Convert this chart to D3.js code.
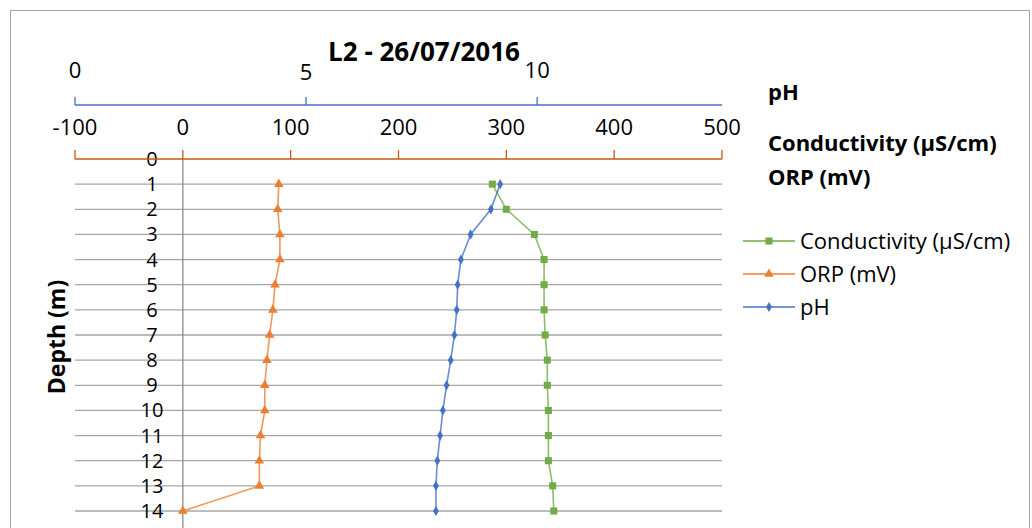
<!DOCTYPE html>
<html>
<head>
<meta charset="utf-8">
<script src="https://cdn.jsdelivr.net/npm/d3@7"></script>
<style>
body { margin: 0; background: #fff; }
svg text { font-family: "Open Sans", sans-serif; fill: #000; }
</style>
</head>
<body>
<div id="chart"></div>
<script>
var w = 1032;
var h = 528;

var depths = [1, 2, 3, 4, 5, 6, 7, 8, 9, 10, 11, 12, 13, 14];
var conductivity = [287, 300, 326, 335, 335, 335, 336, 338, 338, 339, 339, 339, 343, 344];
var orp = [89, 88, 90, 90, 85.5, 83.5, 80.5, 78, 76, 76, 72, 71, 71, 0];
var ph = [9.2, 9.0, 8.56, 8.35, 8.28, 8.26, 8.21, 8.13, 8.04, 7.96, 7.9, 7.84, 7.81, 7.81];

var phTicks = [0, 5, 10];
var valTicks = [-100, 0, 100, 200, 300, 400, 500];
var depthTicks = d3.range(0, 15);

var plotLeft = 75, plotRight = 722, plotTop = 159, plotBottom = 511;

var xPh = d3.scaleLinear().domain([0, 14]).range([plotLeft, plotRight]);
var xVal = d3.scaleLinear().domain([-100, 500]).range([plotLeft, plotRight]);
var y = d3.scaleLinear().domain([0, 14]).range([plotTop, plotBottom]);

var svg = d3.select("#chart")
    .append("svg")
    .attr("width", w)
    .attr("height", h);

// chart frame
svg.append("rect")
    .attr("x", 10.5).attr("y", 10.5)
    .attr("width", 1019).attr("height", 530)
    .attr("fill", "none")
    .attr("stroke", "#a6a6a6");

// gridlines
svg.selectAll("line.grid")
    .data(depthTicks.slice(1))
    .enter()
    .append("line")
    .attr("class", "grid")
    .attr("x1", plotLeft).attr("x2", plotRight)
    .attr("y1", function(d) { return y(d); })
    .attr("y2", function(d) { return y(d); })
    .attr("stroke", "#a6a6a6")
    .attr("stroke-width", 1.3);

// vertical axis at 0
svg.append("line")
    .attr("x1", xVal(0)).attr("x2", xVal(0))
    .attr("y1", plotTop).attr("y2", h)
    .attr("stroke", "#8c8c8c")
    .attr("stroke-width", 1.3);

// depth labels
svg.selectAll("text.depth")
    .data(depthTicks)
    .enter()
    .append("text")
    .attr("class", "depth")
    .attr("x", 152)
    .attr("y", function(d) { return y(d) + 7; })
    .attr("text-anchor", "middle")
    .style("font-size", "20px")
    .text(function(d) { return d; });

// pH axis
var phAxisY = 105;
svg.append("line")
    .attr("x1", plotLeft).attr("x2", plotRight)
    .attr("y1", phAxisY).attr("y2", phAxisY)
    .attr("stroke", "#4472c4").attr("stroke-width", 1.3);
svg.selectAll("line.phtick")
    .data(phTicks)
    .enter()
    .append("line")
    .attr("x1", function(d) { return xPh(d); })
    .attr("x2", function(d) { return xPh(d); })
    .attr("y1", phAxisY - 8).attr("y2", phAxisY)
    .attr("stroke", "#4472c4").attr("stroke-width", 1.3);
svg.selectAll("text.phtick")
    .data(phTicks)
    .enter()
    .append("text")
    .attr("x", function(d) { return xPh(d); })
    .attr("y", function(d) { return d == 5 ? 80 : 78; })
    .attr("text-anchor", "middle")
    .style("font-size", "22px")
    .text(function(d) { return d; });

// value axis
svg.append("line")
    .attr("x1", plotLeft).attr("x2", plotRight)
    .attr("y1", plotTop).attr("y2", plotTop)
    .attr("stroke", "#c55a11").attr("stroke-width", 1.3);
svg.selectAll("line.valtick")
    .data(valTicks)
    .enter()
    .append("line")
    .attr("x1", function(d) { return xVal(d); })
    .attr("x2", function(d) { return xVal(d); })
    .attr("y1", plotTop - 9).attr("y2", plotTop)
    .attr("stroke", "#c55a11").attr("stroke-width", 1.3);
svg.selectAll("text.valtick")
    .data(valTicks)
    .enter()
    .append("text")
    .attr("x", function(d) { return xVal(d); })
    .attr("y", 135)
    .attr("text-anchor", "middle")
    .style("font-size", "22px")
    .text(function(d) { return d; });

// title and axis titles
svg.append("text")
    .attr("x", 424).attr("y", 61)
    .attr("text-anchor", "middle")
    .style("font-size", "26px").style("font-weight", "bold")
    .text("L2 - 26/07/2016");

svg.append("text")
    .attr("transform", "translate(65,337) rotate(-90)")
    .attr("text-anchor", "middle")
    .style("font-size", "23px").style("font-weight", "bold")
    .text("Depth (m)");

svg.append("text").attr("x", 768).attr("y", 100)
    .style("font-size", "22px").style("font-weight", "bold").text("pH");
svg.append("text").attr("x", 768).attr("y", 151)
    .style("font-size", "22px").style("font-weight", "bold").text("Conductivity (µS/cm)");
svg.append("text").attr("x", 768).attr("y", 185)
    .style("font-size", "22px").style("font-weight", "bold").text("ORP (mV)");

// series
var series = [
    {name: "Conductivity (µS/cm)", values: conductivity, x: xVal, color: "#70ad47", marker: d3.symbolSquare, size: 50},
    {name: "ORP (mV)", values: orp, x: xVal, color: "#ed7d31", marker: d3.symbolTriangle, size: 40},
    {name: "pH", values: ph, x: xPh, color: "#4472c4", marker: d3.symbolDiamond, size: 30}
];

series.forEach(function(s) {
    var line = d3.line()
        .x(function(d, i) { return s.x(d); })
        .y(function(d, i) { return y(depths[i]); });

    svg.append("path")
        .datum(s.values)
        .attr("d", line)
        .attr("fill", "none")
        .attr("stroke", s.color)
        .attr("stroke-opacity", 0.8)
        .attr("stroke-width", 1.6);

    svg.selectAll(null)
        .data(s.values)
        .enter()
        .append("path")
        .attr("transform", function(d, i) { return "translate(" + s.x(d) + "," + y(depths[i]) + ")"; })
        .attr("d", d3.symbol().type(s.marker).size(s.size))
        .attr("fill", s.color);
});

// legend
var legend = svg.selectAll("g.legend")
    .data(series)
    .enter()
    .append("g")
    .attr("transform", function(d, i) { return "translate(743," + (241 + i * 33) + ")"; });

legend.append("line")
    .attr("x1", 0).attr("x2", 52)
    .attr("stroke", function(d) { return d.color; })
    .attr("stroke-width", 1.6);
legend.append("path")
    .attr("transform", "translate(26,0)")
    .attr("d", function(d) { return d3.symbol().type(d.marker).size(d.size)(); })
    .attr("fill", function(d) { return d.color; });
legend.append("text")
    .attr("x", 57).attr("y", 8)
    .style("font-size", "22px")
    .text(function(d) { return d.name; });
</script>
</body>
</html>
